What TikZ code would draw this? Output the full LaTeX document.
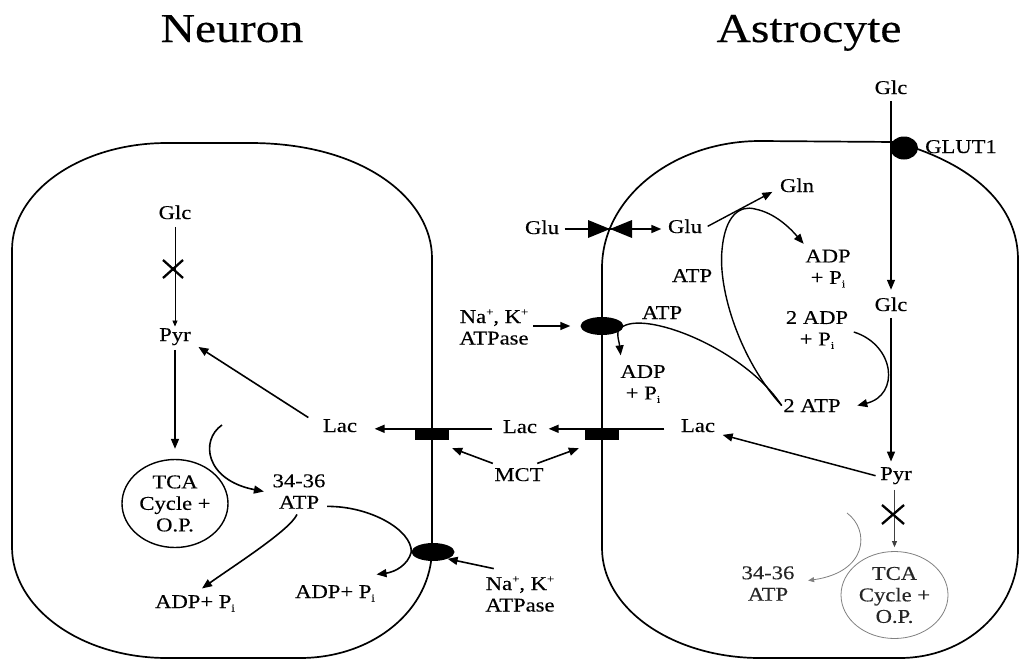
\documentclass[tikz,border=0pt]{standalone}
\usepackage{fontspec}
\setmainfont{Liberation Serif}[FakeStretch=1.16, FakeBold=0.3]
\usetikzlibrary{arrows.meta,calc,shapes.geometric}
\newcommand{\mysubi}{\raisebox{-3.5pt}{\fontsize{10.5}{10.5}\selectfont i}}
\newcommand{\mysupp}{\raisebox{7.5pt}{\fontsize{11}{11}\selectfont +}}
\begin{document}
\begin{tikzpicture}[x=1pt,y=-1pt,
  lbl/.style={font=\fontsize{19.5}{21.5}\selectfont, inner sep=1.5pt, align=center},
  ttl/.style={font=\fontsize{41}{45}\selectfont, inner sep=0pt},
  mem/.style={line width=1.7pt},
  arr/.style={line width=1.6pt, -{Triangle[length=10pt,width=8pt]}},
  tarr/.style={line width=0.9pt, -{Triangle[length=6pt,width=5pt]}},
  pump/.style={ellipse, fill=black, minimum width=43pt, minimum height=18pt, inner sep=0pt},
  mctbox/.style={rectangle, fill=black, minimum width=34pt, minimum height=11pt, inner sep=0pt},
  xmark/.style={line width=2.3pt}
]
\fill[white] (0,0) rectangle (1019,661);
\useasboundingbox (0,0) rectangle (1019,661);

% cells
\draw[mem] (12,250) .. controls (12,191) and (81,143) .. (167,143) -- (250,143)
  .. controls (365,143) and (432,200) .. (432,258) -- (432,548)
  .. controls (432,610) and (373,658) .. (300,658) -- (167,658)
  .. controls (81,658) and (12,608) .. (12,547) -- cycle;
\draw[mem] (602,268) .. controls (602,198) and (673,141) .. (760,141) -- (895,142)
  .. controls (925,150) and (1018,180) .. (1018,260) -- (1018,550)
  .. controls (1018,610) and (965,658) .. (900,658) -- (760,658)
  .. controls (673,658) and (602,609) .. (602,548) -- cycle;

% titles
\node[ttl, anchor=base] (tN) at (232,42) {Neuron};
\node[ttl, anchor=base] (tA) at (809,42) {Astrocyte};

% ---------- neuron ----------
\node[lbl,anchor=base] (glcN) at (175,219) {Glc};
\node[lbl,anchor=base] (pyrN) at (175,341) {Pyr};
\node[lbl, ellipse, draw, line width=1.4pt, minimum width=106pt, minimum height=88pt, inner sep=0pt] (tcaN) at (175,503.5) {TCA\\Cycle +\\O.P.};
\node[lbl] (atpN) at (299,491.5) {34-36\\ATP};
\node[lbl,anchor=base] (adpN1) at (195,608) {ADP+ P\mysubi};
\node[lbl,anchor=base] (adpN2) at (335,598) {ADP+ P\mysubi};
\node[lbl,anchor=base] (lacN) at (340,432) {Lac};
\node[pump] (pumpN) at (433,552) {};
\node[lbl] (nakN) at (520,594) {Na\mysupp, K\mysupp\\ATPase};
\node[mctbox] (pmct) at (432,434.5) {};
\node[mctbox] (amct) at (602,434.5) {};
\node[lbl,anchor=base] (lacC) at (520,433) {Lac};
\node[lbl,anchor=base] (mct) at (519,481) {MCT};

\draw[tarr, shorten <=6pt] (glcN.south) -- (pyrN.north);
\coordinate (xN) at (173,269);
\draw[xmark] ($(xN)+(-10,-9)$) -- ($(xN)+(10,9)$) ($(xN)+(-10,9)$) -- ($(xN)+(10,-9)$);
\draw[arr, shorten <=3pt, shorten >=10pt] (pyrN.south) -- (tcaN.north);
\coordinate (cN) at (222,425);
\draw[arr] (cN) .. controls (200,440) and (205,480) .. ($(atpN.west)+(-7,0)$);
\draw[arr] ($(atpN.south)+(-2,4)$) .. controls (290,530) and (235,565) .. ($(adpN1.north)+(7,-5)$);
\draw[arr] ($(atpN.south east)+(0,-4)$) .. controls (370,506) and (412,530) .. (pumpN.west)
  .. controls (408,565) and (395,572) .. ($(adpN2.north east)+(0,-9)$);
\draw[arr] ($(nakN.north west)+(10,-6)$) -- (pumpN.-25);
\draw[arr] ($(mct.north west)+(0,-3)$) -- ($(pmct.south east)+(3,8)$);
\draw[arr] ($(mct.north east)+(-8,-3)$) -- ($(amct.south west)+(-6,8)$);
\draw[arr] ($(lacC.west |- pmct.north)+(-9,0)$) -- ($(lacN.east |- pmct.north)+(16,0)$);
\draw[arr] ($(lacN.north west)+(-13,0)$) -- ($(pyrN.south east)+(6,0)$);

% ---------- astrocyte ----------
\node[lbl,anchor=base] (gluL) at (542,234) {Glu};
\node[lbl,anchor=base] (gluR) at (685,233) {Glu};
\node[lbl,anchor=base] (gln) at (797,192) {Gln};
\node[lbl] (adpA1) at (828,268.5) {ADP\\+ P\mysubi};
\node[lbl,anchor=base] (atpL) at (692,282) {ATP};
\node[lbl,anchor=base] (atpP) at (662,319) {ATP};
\node[lbl] (nakA) at (494,327) {Na\mysupp, K\mysupp\\ATPase};
\node[pump] (pumpA) at (602,326) {};
\node[lbl] (adpA2) at (643,384) {ADP\\+ P\mysubi};
\node[lbl] (adp2) at (817,330) {2 ADP\\+ P\mysubi};
\node[lbl,anchor=base] (atp2) at (812,412) {2 ATP};
\node[lbl,anchor=base] (glcA1) at (891,94) {Glc};
\node[lbl,anchor=base] (glut) at (961,153) {GLUT1};
\node[lbl,anchor=base] (glcA2) at (891,311) {Glc};
\node[lbl,anchor=base] (lacA) at (698,432) {Lac};
\node[lbl,anchor=base] (pyrA) at (896,480) {Pyr};
\node[lbl, ellipse, draw=black!50, line width=0.8pt, text=black!85, minimum width=107pt, minimum height=87pt, inner sep=0pt] (tcaA) at (894.5,595) {TCA\\Cycle +\\O.P.};
\node[lbl, text=black!85] (atpA34) at (768,583.5) {34-36\\ATP};

\draw[arr] ($(lacA.west |- amct.north)+(-15,0)$) -- ($(lacC.east |- amct.north)+(10,0)$);
\coordinate (exch) at (610,229);
\draw[line width=1.5pt] ($(gluL.east |- exch)+(4,0)$) -- (exch);
\draw[arr, line width=1.5pt] (exch) -- ($(gluR.west |- exch)+(-5,0)$);
\fill ($(exch)+(-22,-9)$) -- (exch) -- ($(exch)+(-22,9)$) -- cycle;
\fill ($(exch)+(22,-9)$) -- (exch) -- ($(exch)+(22,9)$) -- cycle;
\draw[arr, line width=1.4pt] ($(gluR.east)+(4,0)$) -- ($(gln.south west)+(-6,-2)$);
\draw[arr, line width=1.4pt] (atp2.west) .. controls (740,360) and (718,290) .. (722,250)
  .. controls (725,215) and (740,205) .. (755,209)
  .. controls (775,213) and (790,228) .. ($(adpA1.north west)+(0,-4)$);
\draw[line width=1.4pt] (pumpA.east) .. controls (650,312) and (745,350) .. (atp2.west);
\draw[arr, line width=1.4pt] (pumpA.east) .. controls (614,329) and (619,340) .. ($(adpA2.north west)+(2,-8)$);
\draw[arr, line width=1.4pt] ($(nakA.east |- pumpA.west)+(3,0)$) -- ($(pumpA.west)+(-10,0)$);
\draw[arr, line width=1.4pt] ($(adp2.east)+(4,2)$) .. controls (895,345) and (900,395) .. ($(atp2.east)+(15,0)$);
\draw[arr, line width=1.4pt, shorten <=5pt, shorten >=6pt] (glcA1.south) -- (glcA1.south |- glcA2.north);
\node[pump, minimum width=28pt, minimum height=23pt] (glut1) at (904,148) {};
\draw[arr, shorten <=5pt, shorten >=4pt] (glcA2.south) -- (glcA2.south |- pyrA.north);
\draw[arr, line width=1.5pt] ($(pyrA.west)+(-3,0)$) -- ($(lacA.south east)+(6,1)$);
\draw[tarr, black!75, shorten <=4pt, shorten >=4pt] (pyrA.south -| tcaA.north) -- (tcaA.north);
\coordinate (xA) at (893,514.5);
\draw[xmark] ($(xA)+(-11,-9.5)$) -- ($(xA)+(11,9.5)$) ($(xA)+(-11,9.5)$) -- ($(xA)+(11,-9.5)$);
\coordinate (cA) at (847,513);
\draw[tarr, black!50, line width=0.8pt] (cA) .. controls (870,530) and (868,572) .. ($(atpA34.east)+(12,-3)$);
\end{tikzpicture}
\end{document}
